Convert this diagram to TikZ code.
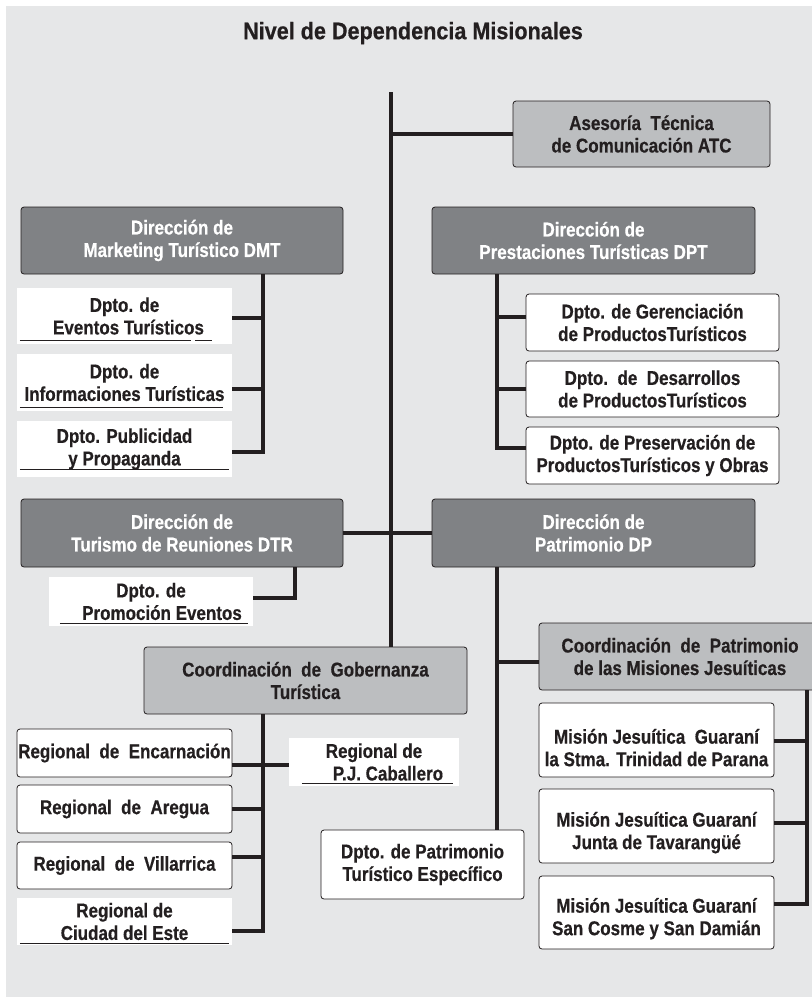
\documentclass[tikz,border=0pt]{standalone}
\usepackage{fontspec}
\setmainfont{Liberation Sans}[FakeStretch=0.85, BoldFeatures={FakeBold=0.5}]
\newfontfamily\titulofont{Liberation Sans}[FakeStretch=0.9, BoldFeatures={FakeBold=0.5}]
\usepackage{xcolor}
\usepackage{tikz}
\usetikzlibrary{positioning,calc}

\definecolor{fondo}{HTML}{E6E7E8}
\definecolor{oscuro}{HTML}{808285}
\definecolor{medio}{HTML}{BCBEC0}
\definecolor{borde}{HTML}{231F20}

\begin{document}
\begin{tikzpicture}[x=1pt,y=-1pt, font=\bfseries\fontsize{20}{22.5}\selectfont, line join=miter]
	% ===== marco y fondo =====
	\useasboundingbox (0,0) rectangle (812,997);
	\clip (0,0) rectangle (812,997);
	\fill[fondo] (6,6) rectangle (812,997);

	% ===== estilos =====
	\tikzset{
		caja/.style={draw=borde, line width=0.8pt, rounded corners=3pt, align=center, inner sep=0pt},
		cajaosc/.style={caja, fill=oscuro, text=white},
		cajamed/.style={caja, fill=medio, text=borde},
		cajabl/.style={caja, fill=white, text=borde},
		hoja/.style={fill=white, align=center, inner sep=0pt, text=borde},
		conn/.style={draw=borde, line width=4pt},
		subr/.style={draw=borde, line width=1.4pt}
	}

	% ===== titulo =====
	\node[font=\titulofont\bfseries\fontsize{24}{26}\selectfont, text=borde] (titulo) at (413,33) {Nivel de Dependencia Misionales};

	% ===== direcciones =====
	\node[cajamed, minimum width=257, minimum height=66] (atc) at (641.5,134) {Asesoría\ \ Técnica\\de Comunicación ATC};
	\node[cajaosc, minimum width=322, minimum height=67] (dmt) at (182,240.5) {Dirección de\\Marketing Turístico DMT};
	\node[cajaosc, minimum width=323, minimum height=67] (dpt) at (593.5,240.5) {Dirección de\\Prestaciones Turísticas DPT};
	\node[cajaosc, minimum width=322, minimum height=68] (dtr) at (182,533) {Dirección de\\Turismo de Reuniones DTR};
	\node[cajaosc, minimum width=323, minimum height=68] (dp) at (593.5,533) {Dirección de\\Patrimonio DP};
	\node[cajamed, minimum width=323, minimum height=67] (cgt) at (305.5,680.5) {Coordinación\ \ de\ \ Gobernanza\\Turística};
	\node[cajamed, minimum width=282, minimum height=67] (cpm) at (680,656.5) {Coordinación\ \ de\ \ Patrimonio\\de las Misiones Jesuíticas};

	% ===== departamentos DMT =====
	\node[hoja, minimum width=215, minimum height=56] (dmt1) at (124.5,316) {Dpto. de\\\hspace*{8pt}Eventos Turísticos};
	\node[hoja, minimum width=215, minimum height=57] (dmt2) at (124.5,382.5) {Dpto. de\\Informaciones Turísticas};
	\node[hoja, minimum width=215, minimum height=56] (dmt3) at (124.5,449) {Dpto. Publicidad\\y Propaganda};

	% ===== departamentos DPT =====
	\node[cajabl, minimum width=253, minimum height=57] (dpt1) at (652.5,322.5) {Dpto. de Gerenciación\\de ProductosTurísticos};
	\node[cajabl, minimum width=253, minimum height=56] (dpt2) at (652.5,389) {Dpto.\ \ de\ \ Desarrollos\\de ProductosTurísticos};
	\node[cajabl, minimum width=253, minimum height=57] (dpt3) at (652.5,455.5) {Dpto. de Preservación de\\ProductosTurísticos y Obras};

	% ===== DTR y DP =====
	\node[hoja, minimum width=204, minimum height=49] (dtr1) at (151,601.5) {Dpto. de\\\hspace*{22pt}Promoción Eventos};
	\node[cajabl, minimum width=203, minimum height=69] (dpte) at (422.5,864.5) {Dpto. de Patrimonio\\Turístico Específico};

	% ===== regionales =====
	\node[cajabl, minimum width=215, minimum height=48] (reg1) at (124.5,753) {Regional\ \ de\ \ Encarnación};
	\node[cajabl, minimum width=215, minimum height=48] (reg2) at (124.5,809) {Regional\ \ de\ \ Aregua};
	\node[cajabl, minimum width=215, minimum height=47] (reg3) at (124.5,865.5) {Regional\ \ de\ \ Villarrica};
	\node[hoja, minimum width=215, minimum height=47] (reg4) at (124.5,921.5) {Regional de\\Ciudad del Este};
	\node[hoja, minimum width=170, minimum height=48] (regpj) at (374,762) {Regional de\\\hspace*{28pt}P.J. Caballero};

	% ===== misiones =====
	\node[cajabl, minimum width=235, minimum height=74] (mis1) at (656.5,740) {\rule{0pt}{30pt}Misión Jesuítica\ \ Guaraní\\la Stma. Trinidad de Parana};
	\node[cajabl, minimum width=235, minimum height=74] (mis2) at (656.5,826) {\rule{0pt}{28pt}Misión Jesuítica Guaraní\\Junta de Tavarangüé};
	\node[cajabl, minimum width=235, minimum height=73] (mis3) at (656.5,912.5) {\rule{0pt}{27pt}Misión Jesuítica Guaraní\\San Cosme y San Damián};

	% ===== subrayados =====
	\draw[subr] ([shift={(3,-4)}]dmt1.south west) -- ([shift={(174,-4)}]dmt1.south west);
	\draw[subr] ([shift={(178,-4)}]dmt1.south west) -- ([shift={(195,-4)}]dmt1.south west);
	\draw[subr] ([shift={(3,-4)}]dmt2.south west) -- ([shift={(206,-4)}]dmt2.south west);
	\draw[subr] ([shift={(3,-8)}]dmt3.south west) -- ([shift={(212,-8)}]dmt3.south west);
	\draw[subr] ([shift={(11,-3)}]dtr1.south west) -- ([shift={(199,-3)}]dtr1.south west);
	\draw[subr] ([shift={(13,-3)}]regpj.south west) -- ([shift={(164,-3)}]regpj.south west);
	\draw[subr] ([shift={(3,-1.5)}]reg4.south west) -- ([shift={(212,-1.5)}]reg4.south west);

	% ===== lineas de dependencia =====
	\coordinate (tronco) at (391,92);
	\coordinate (bmkt) at (263,0);
	\coordinate (bprest) at (497,0);
	\coordinate (bdtr) at (295,0);
	\coordinate (bmis) at (807,0);
	\coordinate (rpj) at ([yshift=-3]regpj.west);

	\draw[conn] (tronco) -- (tronco |- cgt.north);
	\draw[conn] (tronco |- atc.west) -- (atc.west);
	\draw[conn] (dtr.east) -- (dp.west);

	\draw[conn] (bmkt |- dmt.south) |- ([yshift=-3]dmt3.east);
	\draw[conn] ([yshift=-2]dmt1.east) -| (bmkt |- dmt.south);
	\draw[conn] ([yshift=-6.5]dmt2.east) -| (bmkt |- dmt.south);

	\draw[conn] (bprest |- dpt.south) |- ([yshift=7.5]dpt3.west);
	\draw[conn] ([yshift=5.5]dpt1.west) -| (bprest |- dpt.south);
	\draw[conn] (dpt2.west) -| (bprest |- dpt.south);

	\draw[conn] (bdtr |- dtr.south) |- ([yshift=3.5]dtr1.east);

	\draw[conn] (bprest |- dp.south) -- (bprest |- dpte.north);
	\draw[conn] ([yshift=-5.5]cpm.west) -| (bprest |- dp.south);

	\draw[conn] (bmkt |- cgt.south) |- ([yshift=-9.5]reg4.east);
	\draw[conn] (reg1.east |- rpj) -- (rpj);
	\draw[conn] (reg2.east) -| (bmkt |- cgt.south);
	\draw[conn] ([yshift=8.5]reg3.east) -| (bmkt |- cgt.south);

	\draw[conn] (bmis |- cpm.south) |- ([yshift=8.5]mis3.east);
	\draw[conn] ([yshift=-1]mis1.east) -| (bmis |- cpm.south);
	\draw[conn] ([yshift=3]mis2.east) -| (bmis |- cpm.south);
\end{tikzpicture}
\end{document}
